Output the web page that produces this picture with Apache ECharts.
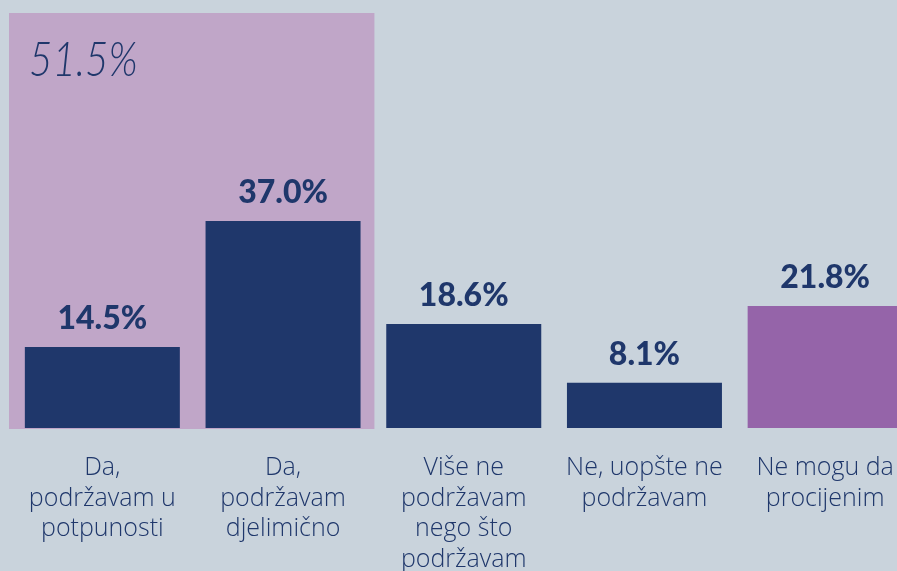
<!DOCTYPE html>
<html>
<head>
<meta charset="utf-8">
<style>
  html, body { margin: 0; padding: 0; background: #c9d3dc; }
  #chart { width: 897px; height: 571px; }
</style>
<script src="https://cdn.jsdelivr.net/npm/echarts@6/dist/echarts.min.js"></script>
</head>
<body>
<div id="chart"></div>
<script>
const categories = [
  'Da,\npodržavam u\npotpunosti',
  'Da,\npodržavam\ndjelimično',
  'Više ne\npodržavam\nnego što\npodržavam',
  'Ne, uopšte ne\npodržavam',
  'Ne mogu da\nprocijenim'
];
const values = [14.5, 37.0, 18.6, 8.1, 21.8];
const barColors = ['#1f376b', '#1f376b', '#1f376b', '#1f376b', '#9564a9'];
const highlightLabel = '51.5%';
const highlightRange = [0, 1];

const navy = '#1f376b';
const chart = echarts.init(document.getElementById('chart'));

chart.setOption({
  backgroundColor: '#c9d3dc',
  animation: false,
  grid: { left: 12, width: 903.5, top: 13, bottom: 143, containLabel: false, outerBoundsMode: 'none' },
  xAxis: {
    type: 'category',
    data: categories,
    axisLine: { show: false },
    axisTick: { show: false },
    axisLabel: {
      interval: 0,
      margin: 25,
      color: navy,
      fontFamily: 'Open Sans',
      fontWeight: 300,
      fontSize: 25,
      lineHeight: 30.5,
      hideOverlap: false
    }
  },
  yAxis: {
    type: 'value',
    min: 0,
    max: 74.2,
    show: false,
    splitLine: { show: false }
  },
  series: [{
    type: 'bar',
    z: 5,
    barWidth: 155,
    data: values.map((v, i) => ({ value: v, itemStyle: { color: barColors[i] } })),
    label: {
      show: true,
      position: 'top',
      distance: 12,
      formatter: p => p.value.toFixed(1) + '%',
      color: navy,
      fontFamily: 'Lato',
      fontWeight: 900,
      fontSize: 32
    }
  }]
});

function drawHighlight() {
  const x0 = chart.convertToPixel({ xAxisIndex: 0 }, categories[highlightRange[0]]);
  const x1 = chart.convertToPixel({ xAxisIndex: 0 }, categories[highlightRange[1]]);
  const yTop = chart.convertToPixel({ yAxisIndex: 0 }, 74.2);
  const yBot = chart.convertToPixel({ yAxisIndex: 0 }, 0);
  const half = (x1 - x0) / 2;
  const left = x0 - half - 3;
  const right = x1 + half + 1;
  chart.setOption({
    graphic: [
      {
        type: 'rect',
        z: -10,
        silent: true,
        shape: { x: left, y: yTop, width: right - left, height: yBot - yTop + 1 },
        style: { fill: '#c0a6c8' }
      },
      {
        type: 'text',
        z: -5,
        silent: true,
        x: left + 20,
        y: yTop + 24,
        scaleX: 0.84,
        style: {
          text: highlightLabel,
          fill: navy,
          font: 'italic 300 48px Lato',
          textVerticalAlign: 'top'
        }
      }
    ]
  });
}
drawHighlight();
</script>
</body>
</html>
